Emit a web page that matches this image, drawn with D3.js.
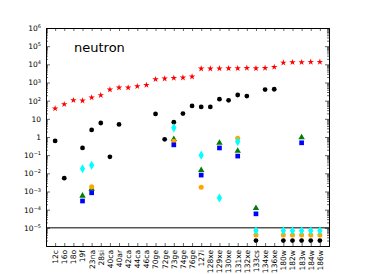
<!DOCTYPE html>
<html>
<head>
<meta charset="utf-8">
<script src="https://cdn.jsdelivr.net/npm/d3@7"></script>
<style>
  body { margin: 0; background: #fff; }
  text { font-family: "DejaVu Sans", sans-serif; }
</style>
</head>
<body>
<div id="chart-area"></div>
<script>
// categories along the x axis
var nuclei = ["12c", "16o", "18o", "19f", "23na", "28si", "40ca", "40ar", "42ca", "44ca",
  "46ca", "70ge", "72ge", "73ge", "74ge", "76ge", "127i", "128xe", "129xe", "130xe",
  "131xe", "132xe", "133cs", "134xe", "136xe", "180w", "182w", "183w", "184w", "186w"];

// series values (null = no point)
var redStars = [37, 63, 105, 100, 148, 200, 407, 525, 525, 616,
  724, 1500, 1630, 1770, 1850, 2100, 5800, 5800, 5900, 6000,
  6000, 6300, 6000, 6300, 7100, 12300, 12900, 12900, 13500, 13500];
var blackDots = [0.61, 0.0054, null, 0.25, 2.45, 5.9, 0.081, 4.9, null, null,
  null, 18.6, 0.75, 6.5, 19.5, 51, 45, 45, 120, 105,
  205, 180, 2e-6, 407, 425, 2e-6, 2e-6, 2e-6, 2e-6, 2e-6];
var greenTris = [null, null, null, 5.8e-4, 0.0014, null, null, null, null, null,
  null, null, null, 0.76, null, null, 0.015, null, 0.47, null,
  0.17, null, 1.2e-4, null, null, null, null, 0.94, null, null];
var orangeDots = [null, null, null, null, 0.0018, null, null, null, null, null,
  null, null, null, 0.59, null, null, 0.0017, null, null, null,
  0.86, null, 4e-6, null, null, 4e-6, 4e-6, 4e-6, 4e-6, 4e-6];
var cyanDiamonds = [null, null, null, 0.018, 0.028, null, null, null, null, null,
  null, null, null, 3.2, null, null, 0.1, null, 4.4e-4, null,
  0.56, null, 6.9e-6, null, null, 6.9e-6, 6.9e-6, 6.9e-6, 6.9e-6, 6.9e-6];
var blueSquares = [null, null, null, 3.0e-4, 8.5e-4, null, null, null, null, null,
  null, null, null, 0.37, null, null, 0.008, null, 0.25, null,
  0.089, null, 5.9e-5, null, null, null, null, 0.48, null, null];

var yTicks = [1e-5, 1e-4, 1e-3, 1e-2, 1e-1, 1, 10, 1e2, 1e3, 1e4, 1e5, 1e6];
var cutLine = 1e-5;
var title = "neutron";

var margin = { left: 46, right: 37, top: 28, bottom: 28 },
  width = 366 - margin.left - margin.right,
  height = 274 - margin.top - margin.bottom;

var svg = d3
  .select("#chart-area")
  .append("svg")
  .attr("width", 366)
  .attr("height", 274);
var g = svg
  .append("g")
  .attr("transform", "translate(" + margin.left + ", " + margin.top + ")");

// Scales
var x = d3.scaleLinear().domain([0, nuclei.length + 1]).range([0, width]);
var y = d3.scaleLog().domain([1e-6, 1e6]).range([height, 0]);

// minor ticks for the log axis
var minorTicks = [];
for (var e = -6; e < 6; e++) {
  for (var m = 2; m < 10; m++) minorTicks.push(m * Math.pow(10, e));
}

function supLabel(sel) {
  sel.each(function(d) {
    var t = d3.select(this).text(null);
    var ex = Math.round(Math.log10(d));
    if (ex === 0) { t.text("1"); return; }
    if (ex === 1) { t.text("10"); return; }
    t.append("tspan").text("10");
    t.append("tspan")
      .attr("dy", "-0.55em")
      .attr("font-size", "5px")
      .text(ex < 0 ? "\u2212" + (-ex) : ex);
  });
}

// Left axis
var yAxis = g.append("g").attr("class", "y axis")
  .call(d3.axisLeft(y).tickValues(yTicks).tickSize(-4).tickPadding(5).tickFormat(""));
yAxis.selectAll(".tick text")
  .attr("font-size", "7.5px")
  .attr("fill", "#000")
  .call(supLabel);
g.append("g")
  .call(d3.axisLeft(y).tickValues(minorTicks).tickSize(-2).tickFormat(""))
  .call(function(a) { a.select(".domain").remove(); });

// Right axis
g.append("g")
  .attr("transform", "translate(" + width + ",0)")
  .call(d3.axisRight(y).tickValues(yTicks.concat([1e-6])).tickSize(-4).tickFormat(""));
g.append("g")
  .attr("transform", "translate(" + width + ",0)")
  .call(d3.axisRight(y).tickValues(minorTicks).tickSize(-2).tickFormat(""))
  .call(function(a) { a.select(".domain").remove(); });

// Top and bottom axes
var xTickVals = d3.range(1, nuclei.length + 1);
g.append("g")
  .call(d3.axisTop(x).tickValues(xTickVals).tickSize(-3).tickFormat(""));
var xAxis = g.append("g")
  .attr("class", "x axis")
  .attr("transform", "translate(0," + height + ")")
  .call(d3.axisBottom(x).tickValues(xTickVals).tickSize(-3).tickPadding(5)
    .tickFormat(function(d) { return nuclei[d - 1]; }));
xAxis.selectAll(".tick text")
  .attr("font-size", "7.5px")
  .attr("fill", "#000")
  .attr("text-anchor", "end")
  .attr("dy", "0.32em")
  .attr("transform", "translate(0,4) rotate(-90)")
  .attr("x", 0)
  .attr("y", 0);

g.selectAll(".domain").attr("stroke", "#000").attr("stroke-width", 1);
g.selectAll(".tick line").attr("stroke", "#000").attr("stroke-width", 0.6);

// Line separating the "zero" row
g.append("line")
  .attr("x1", 0)
  .attr("x2", width)
  .attr("y1", y(cutLine))
  .attr("y2", y(cutLine))
  .attr("stroke", "#000")
  .attr("stroke-width", 1);

// Title
g.append("text")
  .attr("x", 28)
  .attr("y", 24)
  .attr("font-size", "13px")
  .text(title);

function plotSeries(values, symbol, size, color) {
  var pts = values
    .map(function(v, i) { return { i: i + 1, v: v }; })
    .filter(function(d) { return d.v !== null; });
  g.append("g")
    .selectAll("path")
    .data(pts)
    .enter()
    .append("path")
    .attr("transform", function(d) {
      return "translate(" + x(d.i) + "," + y(d.v) + ")";
    })
    .attr("d", d3.symbol().type(symbol).size(size))
    .attr("fill", color);
}

plotSeries(redStars, d3.symbolStar, 13, "#ff0000");
plotSeries(blackDots, d3.symbolCircle, 18, "#000000");
plotSeries(greenTris, d3.symbolTriangle, 18, "#007f00");
plotSeries(orangeDots, d3.symbolCircle, 20, "#ffa500");
plotSeries(cyanDiamonds, d3.symbolDiamond, 24, "#00ffff");
plotSeries(blueSquares, d3.symbolSquare, 22, "#0000ff");
</script>
</body>
</html>
